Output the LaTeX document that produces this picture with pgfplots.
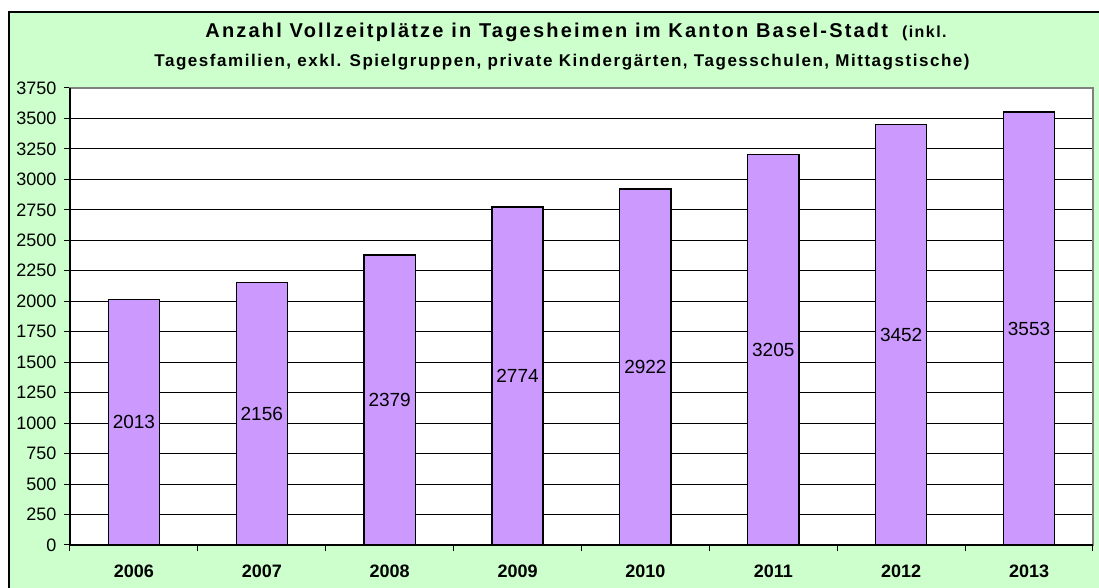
\documentclass[border=0pt]{standalone}
\usepackage{fontspec}
\setmainfont{Liberation Sans}
\usepackage{pgfplots}
\pgfplotsset{compat=1.18}
\usepackage{pgfplotstable}

\definecolor{bggreen}{HTML}{CCFFCC}
\definecolor{barlila}{HTML}{CC99FF}
\definecolor{rahmengrau}{HTML}{808080}

% Vollzeitplaetze pro Jahr
\pgfplotstableread{
x year val
0 2006 2013
1 2007 2156
2 2008 2379
3 2009 2774
4 2010 2922
5 2011 3205
6 2012 3452
7 2013 3553
}\plaetze

\begin{document}
\begin{tikzpicture}[x=1pt,y=1pt]
\path[use as bounding box] (0,0) rectangle (1099,588);
\fill[white] (0,0) rectangle (1099,588);
\fill[bggreen] (9,0) rectangle (1099,575.5);
\draw[black, line width=2pt] (9,0) -- (9,575.5) -- (1099,575.5);

\node[anchor=base, inner sep=0pt,
  font=\bfseries\fontsize{20}{24}\selectfont\addfontfeatures{LetterSpace=11}] at (576,550)
  {Anzahl Vollzeitplätze in Tagesheimen im Kanton Basel-Stadt\hspace{14pt}{\fontsize{16}{18}\selectfont\addfontfeatures{LetterSpace=9}(inkl.}};
\node[anchor=base, inner sep=0pt,
  font=\bfseries\fontsize{17}{20}\selectfont\addfontfeatures{LetterSpace=9}] at (562,521)
  {Tagesfamilien, exkl. Spielgruppen, private Kindergärten, Tagesschulen, Mittagstische)};

\begin{axis}[
  at={(70pt,43pt)}, anchor=south west,
  scale only axis, width=1023pt, height=457pt,
  xmin=-0.5, xmax=7.5, ymin=0, ymax=3750,
  ytick={0,250,...,3750},
  xtick={0,...,7},
  xticklabels={2006,2007,2008,2009,2010,2011,2012,2013},
  minor xtick={-0.5,0.5,...,7.5},
  major x tick style={draw=none},
  tick pos=left,
  tick align=outside,
  major tick length=6pt, minor tick length=6pt,
  tick style={black, line width=1pt},
  ymajorgrids,
  grid style={black, line width=1.1pt},
  axis line style={rahmengrau, line width=1.5pt},
  axis background/.style={fill=white},
  /pgf/number format/assume math mode=true,
  /pgf/number format/1000 sep={},
  yticklabel style={font=\fontsize{18}{20}\selectfont, xshift=-4pt},
  xticklabel style={font=\bfseries\fontsize{18}{20}\selectfont, yshift=-10pt},
  after end axis/.code={
    \draw[black, line width=1.5pt] (rel axis cs:0,1) -- (rel axis cs:0,0) -- (rel axis cs:1,0);
  },
]
\addplot[ybar, bar width=0.4, fill=barlila, draw=black, line width=1.3pt]
  table[x=x, y=val]{\plaetze};
\addplot[draw=none, mark=none, nodes near coords, point meta=explicit symbolic,
  nodes near coords align=center,
  every node near coord/.append style={font=\fontsize{19}{21}\selectfont, anchor=center}]
  table[x=x, y expr=\thisrow{val}/2, meta=val]{\plaetze};
\end{axis}
\end{tikzpicture}
\end{document}
